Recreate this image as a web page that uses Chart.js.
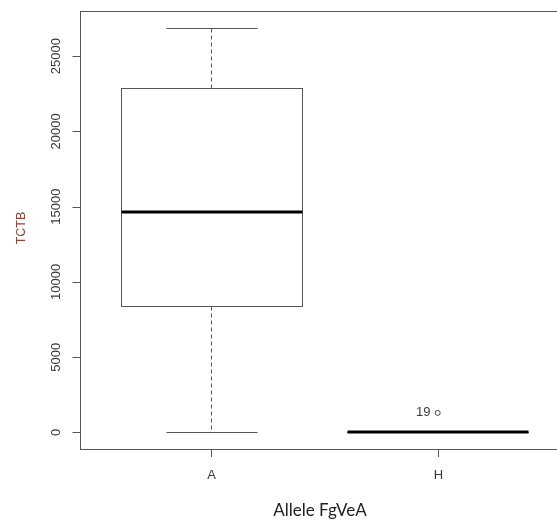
<!DOCTYPE html>
<html>
<head>
<meta charset="utf-8">
<style>
  html, body { margin: 0; padding: 0; background: #fff; overflow: hidden; }
  #chart { display: block; }
</style>
<script src="https://cdn.jsdelivr.net/npm/chart.js@4/dist/chart.umd.min.js"></script>
</head>
<body>
<canvas id="chart" width="575" height="521"></canvas>
<script>
const categories = ["A", "H"];
const whiskerLow = [0, 0];
const quartile1 = [8400, 0];
const medians = [14650, 0];
const quartile3 = [22900, 0];
const whiskerHigh = [26900, 0];
const outliers = [[], [1300]];
const outlierLabels = [[], ["19"]];
const yTicks = [0, 5000, 10000, 15000, 20000, 25000];

const BOX_HALF = 0.4;
const CAP_HALF = 0.2;
const LINE_COLOR = "#555";
const TEXT_COLOR = "#3a3a3a";

const outlierPoints = [];
outliers.forEach((list, i) => {
  list.forEach((value) => outlierPoints.push({ x: i + 1, y: value }));
});

const boxplotPlugin = {
  id: "boxplot",
  afterDatasetsDraw(chart) {
    const { ctx, chartArea, scales } = chart;
    const xs = scales.x;
    const ys = scales.y;
    ctx.save();

    // plot frame
    ctx.strokeStyle = LINE_COLOR;
    ctx.lineWidth = 1;
    ctx.setLineDash([]);
    ctx.strokeRect(chartArea.left + 0.5, chartArea.top + 0.5,
      chartArea.right - chartArea.left, chartArea.bottom - chartArea.top);

    categories.forEach((cat, i) => {
      const pos = i + 1;
      const xl = Math.round(xs.getPixelForValue(pos - BOX_HALF)) + 0.5;
      const xr = Math.round(xs.getPixelForValue(pos + BOX_HALF)) + 0.5;
      const xc = Math.round(xs.getPixelForValue(pos)) + 0.5;
      const cl = Math.round(xs.getPixelForValue(pos - CAP_HALF)) + 0.5;
      const cr = Math.round(xs.getPixelForValue(pos + CAP_HALF)) + 0.5;
      const yLo = Math.round(ys.getPixelForValue(whiskerLow[i])) + 0.5;
      const yQ1 = Math.round(ys.getPixelForValue(quartile1[i])) + 0.5;
      const yMed = Math.round(ys.getPixelForValue(medians[i]));
      const yQ3 = Math.round(ys.getPixelForValue(quartile3[i])) + 0.5;
      const yHi = Math.round(ys.getPixelForValue(whiskerHigh[i])) + 0.5;

      ctx.strokeStyle = LINE_COLOR;
      ctx.lineWidth = 1;

      // whiskers
      ctx.setLineDash([4, 3]);
      ctx.beginPath();
      ctx.moveTo(xc, yQ3); ctx.lineTo(xc, yHi);
      ctx.moveTo(xc, yQ1); ctx.lineTo(xc, yLo);
      ctx.stroke();
      ctx.setLineDash([]);

      // caps
      ctx.beginPath();
      ctx.moveTo(cl, yHi); ctx.lineTo(cr, yHi);
      ctx.moveTo(cl, yLo); ctx.lineTo(cr, yLo);
      ctx.stroke();

      // box
      ctx.strokeRect(xl, yQ3, xr - xl, yQ1 - yQ3);

      // median
      ctx.strokeStyle = "#000";
      ctx.lineWidth = 3;
      ctx.beginPath();
      ctx.moveTo(xl, yMed); ctx.lineTo(xr, yMed);
      ctx.stroke();

      // x tick + label
      ctx.strokeStyle = LINE_COLOR;
      ctx.lineWidth = 1;
      ctx.beginPath();
      ctx.moveTo(xc, chartArea.bottom); ctx.lineTo(xc, chartArea.bottom + 8);
      ctx.stroke();
      ctx.fillStyle = TEXT_COLOR;
      ctx.font = "13px 'Liberation Sans', Arial, sans-serif";
      ctx.textAlign = "center";
      ctx.textBaseline = "middle";
      ctx.fillText(cat, xc, chartArea.bottom + 26);

      // outlier labels
      outliers[i].forEach((value, j) => {
        const py = ys.getPixelForValue(value);
        ctx.font = "13px 'Liberation Sans', Arial, sans-serif";
        ctx.textAlign = "right";
        ctx.fillText(outlierLabels[i][j], xc - 8, py);
      });
    });

    // y axis ticks and labels
    ctx.strokeStyle = LINE_COLOR;
    ctx.lineWidth = 1;
    const axisX = chartArea.left + 0.5;
    ctx.beginPath();
    ctx.moveTo(axisX, ys.getPixelForValue(yTicks[0]));
    ctx.lineTo(axisX, ys.getPixelForValue(yTicks[yTicks.length - 1]));
    yTicks.forEach((t) => {
      const py = Math.round(ys.getPixelForValue(t)) + 0.5;
      ctx.moveTo(axisX - 8, py); ctx.lineTo(axisX, py);
    });
    ctx.stroke();
    ctx.fillStyle = TEXT_COLOR;
    ctx.font = "13px 'Liberation Sans', Arial, sans-serif";
    ctx.textAlign = "center";
    ctx.textBaseline = "middle";
    yTicks.forEach((t) => {
      const py = ys.getPixelForValue(t);
      ctx.save();
      ctx.translate(chartArea.left - 24, py);
      ctx.rotate(-Math.PI / 2);
      ctx.fillText(String(t), 0, 0);
      ctx.restore();
    });

    // axis titles
    ctx.save();
    ctx.fillStyle = "#8e4638";
    ctx.font = "12.5px 'Liberation Sans', Arial, sans-serif";
    ctx.translate(22, (chartArea.top + chartArea.bottom) / 2 - 2);
    ctx.rotate(-Math.PI / 2);
    ctx.fillText("TCTB", 0, 0);
    ctx.restore();

    ctx.fillStyle = "#222";
    ctx.font = "17px Lato, 'Open Sans', sans-serif";
    ctx.textAlign = "center";
    ctx.fillText("Allele FgVeA", 320, 511);

    ctx.restore();
  },
};

const initChart = () => {
  const canvas = document.getElementById("chart");
  new Chart(canvas.getContext("2d"), {
    type: "scatter",
    data: {
      datasets: [
        {
          label: "outliers",
          data: outlierPoints,
          pointStyle: "circle",
          radius: 2.5,
          borderWidth: 1,
          borderColor: "#444",
          backgroundColor: "#fff",
        },
      ],
    },
    options: {
      responsive: false,
      animation: false,
      devicePixelRatio: 1,
      layout: { padding: { left: 80, top: 11, right: 6, bottom: 72 } },
      plugins: { legend: { display: false }, tooltip: { enabled: false } },
      scales: {
        x: { type: "linear", min: 0.42, max: 2.58, display: false },
        y: { type: "linear", min: -1100, max: 28000, display: false },
      },
    },
    plugins: [boxplotPlugin],
  });
};

window.addEventListener("DOMContentLoaded", initChart);
</script>
</body>
</html>
